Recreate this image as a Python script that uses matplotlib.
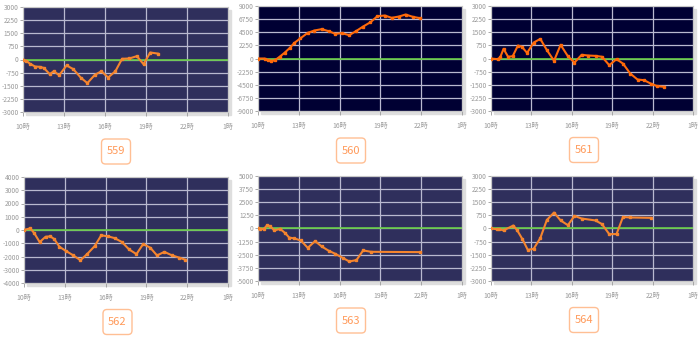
import matplotlib
matplotlib.use("Agg")
import matplotlib.pyplot as plt
import numpy as np
from matplotlib.patches import FancyBboxPatch, Rectangle

plt.rcParams['font.family'] = ['Noto Sans CJK JP', 'DejaVu Sans']

W, H = 700, 340

# x axis: hours of the day (1時 = 25)
hour_ticks = [10, 13, 16, 19, 22, 25]
hour_labels = ["10時", "13時", "16時", "19時", "22時", "1時"]

machines = ["559", "560", "561", "562", "563", "564"]

h559 = [10.0, 10.25, 10.49, 10.88, 11.23, 11.52, 11.96, 12.25, 12.65, 13.19, 13.68,
        14.22, 14.71, 15.25, 15.74, 16.23, 16.76, 17.25, 17.79, 18.33, 18.82, 19.31, 19.85]
v559 = [0, -80, -230, -400, -420, -480, -840, -670, -900, -340, -550,
        -1030, -1350, -880, -670, -1030, -670, 40, 60, 190, -270, 400, 340]

h560 = [10.0, 10.49, 10.73, 10.98, 11.22, 11.59, 11.95, 12.32, 12.68, 13.1, 13.66,
        14.15, 14.68, 15.2, 15.68, 16.17, 16.71, 17.2, 17.73, 18.27, 18.78, 19.32,
        19.83, 20.37, 20.85, 21.39, 21.93]
v560 = [0, 0, -290, -400, -340, 290, 970, 1770, 2680, 3430, 4400,
        4800, 5030, 4680, 4230, 4340, 4000, 4680, 5480, 6220, 7250, 7370,
        6970, 7200, 7540, 7140, 6910]

h561 = [10.0, 10.49, 10.68, 10.93, 11.27, 11.61, 12.0, 12.29, 12.68, 13.17, 13.66,
        14.15, 14.68, 15.17, 15.71, 16.2, 16.73, 17.22, 17.76, 18.24, 18.78, 19.32,
        19.8, 20.34, 20.88, 21.37, 21.85, 22.34, 22.88]
v561 = [0, -40, 60, 550, 100, 130, 740, 670, 320, 910, 1120,
        480, -130, 780, 130, -230, 210, 170, 150, 100, -380, -40,
        -290, -860, -1200, -1240, -1430, -1580, -1620]

h562 = [10.0, 10.46, 10.76, 11.15, 11.59, 11.93, 12.22, 12.61, 13.1, 13.63, 14.15,
        14.66, 15.2, 15.68, 16.17, 16.66, 17.2, 17.73, 18.27, 18.76, 19.29, 19.78,
        20.32, 20.85, 21.39, 21.83]
v562 = [0, 130, -250, -910, -510, -480, -680, -1270, -1590, -1920, -2280,
        -1800, -1210, -400, -480, -610, -910, -1470, -1820, -1060, -1340, -1920,
        -1650, -1900, -2080, -2230]

h563 = [10.0, 10.17, 10.41, 10.66, 10.9, 11.2, 11.63, 12.0, 12.29, 12.68, 13.15,
        13.66, 14.2, 14.68, 15.2, 15.68, 16.22, 16.71, 17.24, 17.73, 18.32, 21.88]
v563 = [0, -30, -60, 290, 220, -190, -30, -440, -860, -950, -1140,
        -1840, -1200, -1710, -2120, -2410, -2790, -3140, -3010, -2090, -2220, -2250]

h564 = [10.0, 10.44, 10.63, 10.93, 11.66, 11.95, 12.32, 12.73, 13.17, 13.66, 14.15,
        14.68, 15.17, 15.71, 16.2, 16.73, 17.76, 18.24, 18.78, 19.32, 19.8, 20.34, 21.85]
v564 = [0, -40, -40, -110, 170, -110, -590, -1220, -1160, -550, 490,
        910, 460, 190, 720, 570, 460, 250, -320, -320, 660, 630, 610]

hours = [h559, h560, h561, h562, h563, h564]
values = [v559, v560, v561, v562, v563, v564]
y_max = [3000, 9000, 3000, 4000, 5000, 3000]

# panel layout in pixels: left, top, right, bottom ; label box centre
boxes = [(23, 7, 228, 112), (258, 6, 462, 111), (491, 6, 693, 111),
         (24, 177, 228, 283), (258, 176, 462, 281), (491, 176, 693, 281)]
label_pos = [(116, 151.5), (351, 150.5), (584, 150),
             (117.5, 322), (351, 320.5), (584, 320)]
bg_cols = ["#2f2f5c", "#000033", "#000033", "#2f2f5c", "#2f2f5c", "#2f2f5c"]
line_cols = ["#f5852e", "#ff6a0a", "#ff6a0a", "#f5852e", "#f5852e", "#f5852e"]

fig = plt.figure(figsize=(W / 100, H / 100), dpi=100)
fig.patch.set_facecolor("white")

for i, name in enumerate(machines):
    l, t, r, b = boxes[i]
    # soft shadow under the plot area
    fig.add_artist(Rectangle(((l + 3) / W, 1 - (b + 3) / H), (r - l) / W, (b - t) / H,
                             transform=fig.transFigure, color="#dedede", zorder=-1))
    ax = fig.add_axes([l / W, 1 - b / H, (r - l) / W, (b - t) / H])
    ax.set_facecolor(bg_cols[i])
    ym = y_max[i]
    yt = np.linspace(-ym, ym, 9)
    ax.set_ylim(-ym, ym)
    ax.set_xlim(10, 25)
    ax.set_yticks(yt)
    ax.set_yticklabels([f"{int(v)}" for v in yt])
    ax.set_xticks(hour_ticks)
    ax.set_xticklabels(hour_labels)
    ax.grid(True, color="#b9b9d0", lw=0.9)
    ax.set_axisbelow(True)
    ax.axhline(0, color="#66cc44", lw=1.2, zorder=2)
    ax.plot(hours[i], values[i], color=line_cols[i], lw=1.5, marker="s",
            ms=1.6, zorder=3)
    ax.tick_params(axis="y", labelsize=4.8, colors="#9a9a9a", length=2, pad=1, width=0.6)
    ax.tick_params(axis="x", labelsize=5.0, colors="#9a9a9a", length=3, pad=5, width=0.6)
    for s in ax.spines.values():
        s.set_color("#c8c8c8")
        s.set_linewidth(0.8)

    cx, cy = label_pos[i]
    fig.add_artist(FancyBboxPatch(((cx - 14.5) / 100, (H - cy - 12.5) / 100), 0.29, 0.25,
                                  boxstyle="round,pad=0,rounding_size=0.04",
                                  transform=fig.dpi_scale_trans,
                                  facecolor="white", edgecolor="#ffbf94", lw=1.0))
    fig.text(cx / W, 1 - cy / H, name, ha="center", va="center",
             fontsize=8, color="#ff9a5a")

fig.savefig("out.png", dpi=100)
